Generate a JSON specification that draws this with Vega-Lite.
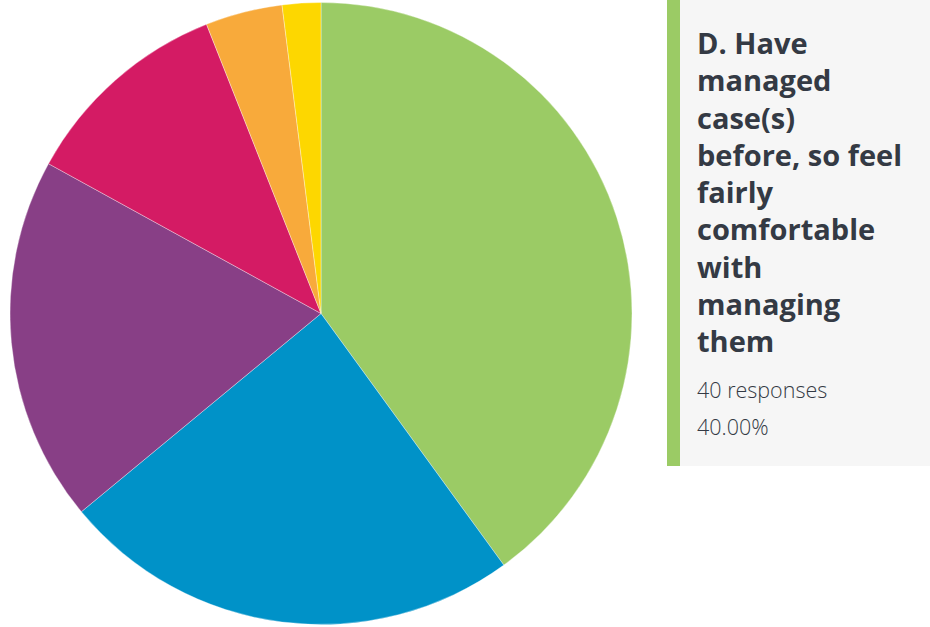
{
  "$schema": "https://vega.github.io/schema/vega-lite/v6.json",
  "padding": 0,
  "background": "white",
  "spacing": 25,
  "config": {"view": {"stroke": null}, "concat": {"spacing": 25}},
  "hconcat": [
    {
      "width": 642,
      "height": 627,
      "data": {"values": [
        {"option": "D. Have managed case(s) before, so feel fairly comfortable with managing them", "key": "D", "responses": 40, "order": 1},
        {"option": "Option E", "key": "E", "responses": 24, "order": 2},
        {"option": "Option C", "key": "C", "responses": 19, "order": 3},
        {"option": "Option B", "key": "B", "responses": 11, "order": 4},
        {"option": "Option A", "key": "A", "responses": 4, "order": 5},
        {"option": "Option F", "key": "F", "responses": 2, "order": 6}
      ]},
      "mark": {"type": "arc", "radius": 311, "stroke": "white", "strokeWidth": 0.35},
      "encoding": {
        "theta": {"field": "responses", "type": "quantitative", "stack": true},
        "order": {"field": "order", "type": "quantitative"},
        "color": {
          "field": "key", "type": "nominal", "legend": null,
          "scale": {"domain": ["D", "E", "C", "B", "A", "F"], "range": ["#9bcb65", "#0092c8", "#883f86", "#d41b64", "#f8aa3b", "#fdd700"]}
        }
      }
    },
    {
      "spacing": 0,
      "hconcat": [
        {
          "width": 13,
          "height": 466,
          "view": {"fill": "#9bcb65", "stroke": null},
          "data": {"values": [{"k": 1}]},
          "mark": {"type": "rect", "color": "#9bcb65"},
          "encoding": {}
        },
        {
          "width": 250,
          "height": 466,
          "view": {"fill": "#f6f6f6", "stroke": null},
          "data": {"values": [
            {"line": 0, "text": "D. Have", "kind": "title"},
            {"line": 1, "text": "managed", "kind": "title"},
            {"line": 2, "text": "case(s)", "kind": "title"},
            {"line": 3, "text": "before, so feel", "kind": "title"},
            {"line": 4, "text": "fairly", "kind": "title"},
            {"line": 5, "text": "comfortable", "kind": "title"},
            {"line": 6, "text": "with", "kind": "title"},
            {"line": 7, "text": "managing", "kind": "title"},
            {"line": 8, "text": "them", "kind": "title"},
            {"line": 9, "text": "40 responses", "kind": "stat"},
            {"line": 10, "text": "40.00%", "kind": "stat"}
          ]},
          "encoding": {
            "x": {"datum": 0, "type": "quantitative", "scale": {"domain": [0, 1]}, "axis": null},
            "y": {"field": "line", "type": "quantitative", "scale": {"domain": [-1.4497, 11.06], "reverse": true, "nice": false, "zero": false}, "axis": null},
            "text": {"field": "text"}
          },
          "layer": [
            {
              "transform": [{"filter": "datum.kind === 'title'"}],
              "mark": {"type": "text", "align": "left", "baseline": "alphabetic", "dx": 17, "font": "Open Sans", "fontWeight": "bold", "fontSize": 29, "color": "#343a44"}
            },
            {
              "transform": [{"filter": "datum.kind === 'stat'"}],
              "mark": {"type": "text", "align": "left", "baseline": "alphabetic", "dx": 17, "dy": 8.75, "font": "Open Sans", "fontWeight": 300, "fontSize": 21.5, "color": "#343a44"}
            }
          ]
        }
      ]
    }
  ]
}
